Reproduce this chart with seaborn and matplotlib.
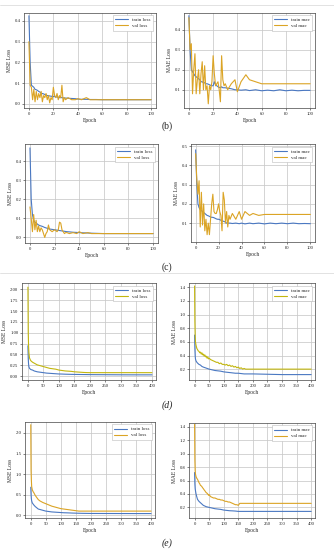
import matplotlib
matplotlib.use("Agg")
import matplotlib.pyplot as plt
from matplotlib.lines import Line2D
import seaborn as sns

# ---- panel (b) / (c): 100 epochs ----
ep100 = list(range(31)) + [32, 35, 38, 40, 43, 47, 50, 55, 60, 65, 70, 75, 80, 85, 90, 95, 100]

b_mse_train = [0.425, 0.20, 0.09, 0.085, 0.08, 0.07, 0.068, 0.065, 0.06, 0.057, 0.05, 0.05, 0.048, 0.045, 0.043, 0.04,
               0.04, 0.038, 0.037, 0.036, 0.035, 0.035, 0.034, 0.033, 0.032, 0.03, 0.03, 0.03, 0.029, 0.028, 0.028,
               0.027, 0.026, 0.025, 0.023, 0.022, 0.022, 0.021, 0.021, 0.02, 0.02, 0.02, 0.02, 0.02, 0.02, 0.02, 0.02, 0.02]
b_mse_val = [0.30, 0.09, 0.08, 0.02, 0.07, 0.01, 0.06, 0.02, 0.05, 0.03, 0.06, 0.01, 0.04, 0.03, 0.05, 0.02,
             0.04, 0.005, 0.03, 0.02, 0.08, 0.04, 0.03, 0.05, 0.02, 0.04, 0.03, 0.09, 0.01, 0.03, 0.02,
             0.03, 0.02, 0.02, 0.025, 0.02, 0.03, 0.02, 0.02, 0.02, 0.02, 0.02, 0.02, 0.02, 0.02, 0.02, 0.02, 0.02]
b_mae_train = [0.47, 0.30, 0.20, 0.19, 0.18, 0.17, 0.165, 0.16, 0.155, 0.15, 0.14, 0.14, 0.135, 0.135, 0.13, 0.13,
               0.128, 0.125, 0.122, 0.12, 0.12, 0.14, 0.125, 0.12, 0.115, 0.112, 0.11, 0.115, 0.11, 0.11, 0.11,
               0.108, 0.105, 0.10, 0.10, 0.098, 0.10, 0.096, 0.10, 0.095, 0.098, 0.095, 0.10, 0.095, 0.098, 0.095, 0.097, 0.097]
b_mae_val = [0.46, 0.30, 0.33, 0.08, 0.20, 0.28, 0.08, 0.15, 0.20, 0.08, 0.18, 0.24, 0.10, 0.22, 0.10, 0.12,
             0.03, 0.12, 0.10, 0.14, 0.27, 0.18, 0.12, 0.13, 0.14, 0.10, 0.04, 0.27, 0.15, 0.12, 0.13,
             0.10, 0.13, 0.15, 0.09, 0.14, 0.175, 0.15, 0.14, 0.13, 0.13, 0.13, 0.13, 0.13, 0.13, 0.13, 0.13, 0.13]

c_mse_train = [0.47, 0.20, 0.12, 0.09, 0.08, 0.075, 0.07, 0.065, 0.062, 0.06, 0.058, 0.055, 0.052, 0.05, 0.048, 0.045,
               0.044, 0.043, 0.042, 0.041, 0.04, 0.039, 0.038, 0.037, 0.036, 0.035, 0.034, 0.033, 0.032, 0.031, 0.03,
               0.029, 0.027, 0.026, 0.025, 0.024, 0.023, 0.022, 0.021, 0.02, 0.02, 0.02, 0.02, 0.02, 0.02, 0.02, 0.02, 0.02]
c_mse_val = [0.16, 0.10, 0.03, 0.12, 0.04, 0.09, 0.03, 0.06, 0.03, 0.05, 0.04, 0.02, 0.00, 0.02, 0.03, 0.065,
             0.04, 0.035, 0.03, 0.035, 0.04, 0.035, 0.03, 0.04, 0.08, 0.075, 0.04, 0.03, 0.02, 0.025, 0.025,
             0.02, 0.025, 0.02, 0.03, 0.02, 0.025, 0.02, 0.02, 0.02, 0.02, 0.02, 0.02, 0.02, 0.02, 0.02, 0.02, 0.02]
c_mae_train = [0.48, 0.30, 0.20, 0.18, 0.17, 0.165, 0.16, 0.155, 0.15, 0.145, 0.14, 0.138, 0.135, 0.132, 0.13, 0.13,
               0.128, 0.125, 0.122, 0.12, 0.12, 0.118, 0.115, 0.112, 0.11, 0.108, 0.105, 0.10, 0.10, 0.10, 0.10,
               0.098, 0.10, 0.097, 0.10, 0.096, 0.10, 0.097, 0.10, 0.096, 0.10, 0.097, 0.10, 0.097, 0.10, 0.097, 0.098, 0.097]
c_mae_val = [0.46, 0.33, 0.25, 0.32, 0.08, 0.26, 0.09, 0.20, 0.06, 0.12, 0.04, 0.10, 0.04, 0.12, 0.20, 0.25,
             0.16, 0.15, 0.15, 0.17, 0.20, 0.16, 0.14, 0.06, 0.26, 0.22, 0.10, 0.16, 0.08, 0.14, 0.12,
             0.15, 0.12, 0.16, 0.12, 0.16, 0.14, 0.15, 0.14, 0.145, 0.145, 0.145, 0.145, 0.145, 0.145, 0.145, 0.145, 0.145]

# ---- panel (d) / (e): 400 epochs ----
ep400 = [0, 1, 2, 3, 5, 8, 10, 15, 20, 25, 30, 40, 50, 60, 70, 80, 90, 100, 110, 120, 130, 140, 150, 160,
         170, 180, 190, 200, 250, 300, 350, 400]
ep400_fine = [0, 1, 2, 3, 5, 8, 10, 12, 15, 18, 20, 23, 25, 28, 30, 33, 35, 38, 40, 43, 45, 48, 50, 55, 60, 65, 70,
              75, 80, 85, 90, 95, 100, 105, 110, 115, 120, 125, 130, 135, 140, 145, 150, 155, 160, 165, 170, 175,
              180, 200, 250, 300, 350, 400]

d_mse_train = [0.70, 0.40, 0.28, 0.22, 0.18, 0.16, 0.15, 0.14, 0.12, 0.11, 0.10, 0.09, 0.08, 0.07, 0.065, 0.06,
               0.055, 0.05, 0.048, 0.045, 0.043, 0.041, 0.04, 0.039, 0.038, 0.037, 0.036, 0.035, 0.033, 0.031, 0.03, 0.03]
d_mse_val = [2.05, 1.0, 0.70, 0.55, 0.42, 0.37, 0.35, 0.32, 0.30, 0.28, 0.26, 0.24, 0.22, 0.20, 0.18, 0.17,
             0.16, 0.14, 0.13, 0.12, 0.115, 0.11, 0.10, 0.095, 0.09, 0.085, 0.082, 0.08, 0.08, 0.08, 0.08, 0.08]
d_mae_train = [0.70, 0.50, 0.40, 0.35, 0.32, 0.30, 0.29, 0.27, 0.26, 0.24, 0.23, 0.215, 0.20, 0.19, 0.18, 0.175,
               0.17, 0.16, 0.155, 0.15, 0.145, 0.14, 0.14, 0.135, 0.13, 0.13, 0.13, 0.13, 0.125, 0.12, 0.12, 0.12]
d_mae_val = [1.42, 0.90, 0.70, 0.60, 0.55, 0.50, 0.49, 0.47, 0.46, 0.44, 0.45, 0.42, 0.44, 0.41, 0.42, 0.39, 0.41,
             0.38, 0.39, 0.36, 0.38, 0.35, 0.36, 0.34, 0.33, 0.32, 0.31, 0.30, 0.30, 0.28, 0.29, 0.27, 0.27, 0.26,
             0.27, 0.25, 0.26, 0.24, 0.25, 0.23, 0.24, 0.22, 0.23, 0.21, 0.22, 0.20, 0.21, 0.20, 0.20, 0.20, 0.20,
             0.20, 0.20, 0.20]

e_mse_train = [0.68, 0.50, 0.40, 0.35, 0.30, 0.27, 0.25, 0.21, 0.18, 0.15, 0.14, 0.12, 0.10, 0.09, 0.08, 0.075,
               0.07, 0.065, 0.06, 0.058, 0.055, 0.052, 0.05, 0.048, 0.046, 0.045, 0.044, 0.043, 0.042, 0.041, 0.04, 0.04]
e_mse_val = [2.20, 1.10, 0.85, 0.70, 0.62, 0.57, 0.55, 0.48, 0.43, 0.38, 0.35, 0.31, 0.28, 0.25, 0.22, 0.20,
             0.18, 0.16, 0.15, 0.14, 0.13, 0.12, 0.11, 0.10, 0.10, 0.10, 0.10, 0.10, 0.10, 0.10, 0.10, 0.10]
e_mae_train = [0.72, 0.55, 0.48, 0.45, 0.40, 0.35, 0.32, 0.29, 0.27, 0.25, 0.23, 0.21, 0.20, 0.19, 0.18, 0.175,
               0.17, 0.16, 0.155, 0.15, 0.148, 0.145, 0.14, 0.14, 0.14, 0.14, 0.14, 0.14, 0.14, 0.14, 0.14, 0.14]
e_mae_val = [1.44, 0.90, 0.75, 0.70, 0.66, 0.63, 0.62, 0.60, 0.57, 0.55, 0.53, 0.52, 0.51, 0.49, 0.48, 0.46, 0.45,
             0.43, 0.42, 0.41, 0.40, 0.38, 0.39, 0.36, 0.35, 0.34, 0.34, 0.33, 0.32, 0.32, 0.31, 0.31, 0.30, 0.29,
             0.29, 0.28, 0.28, 0.27, 0.26, 0.25, 0.24, 0.24, 0.23, 0.26, 0.26, 0.26, 0.26, 0.26, 0.26, 0.26, 0.26,
             0.26, 0.26, 0.26]

TRAIN_C = "#4a78c2"
VAL_C = "#dba425"
VAL_C_D = "#c2b60e"

sns.set_style("whitegrid")
plt.rcParams["font.family"] = ["Liberation Serif", "DejaVu Serif"]


def panel(fig, rect, ep_tr, y_tr, ep_va, y_va, kind, val_color, ylim, yticks, xlim, xticks, yfmt):
    ax = fig.add_axes(rect)
    sns.lineplot(x=ep_tr, y=y_tr, ax=ax, color=TRAIN_C, lw=0.8, label=f"train {kind}")
    sns.lineplot(x=ep_va, y=y_va, ax=ax, color=val_color, lw=0.8, label=f"val {kind}")
    ax.set_xlim(xlim)
    ax.set_ylim(ylim)
    ax.set_xticks(xticks)
    ax.set_yticks(yticks)
    ax.set_yticklabels([yfmt.format(t) for t in yticks])
    ax.tick_params(labelsize=3.4, length=1.2, width=0.4, pad=1.5, left=True, bottom=True)
    ax.set_xlabel("Epoch", fontsize=4, labelpad=1.5)
    ax.set_ylabel("MSE Loss" if kind == "loss" else "MAE Loss", fontsize=4, labelpad=2)
    ax.grid(True, which="major", axis="both", color="#c9c9c9", lw=0.55)
    for s in ax.spines.values():
        s.set_color("#444444")
        s.set_linewidth(0.5)
    leg = ax.legend(loc="upper right", fontsize=3.6, handlelength=2.6, borderpad=0.5,
                    labelspacing=0.3, handletextpad=0.8, framealpha=1, fancybox=False)
    leg.get_frame().set_linewidth(0.4)
    leg.get_frame().set_edgecolor("#bbbbbb")
    return ax


fig = plt.figure(figsize=(3.34, 5.5), dpi=100)

x100 = (-4, 104)
t100 = [0, 20, 40, 60, 80, 100]
x400 = (-19, 413)
t400 = list(range(0, 401, 50))

panel(fig, [0.072, 0.804, 0.395, 0.173], ep100, b_mse_train, ep100, b_mse_val, "loss", VAL_C,
      (-0.019, 0.44), [0.0, 0.1, 0.2, 0.3, 0.4], x100, t100, "{:.1f}")
panel(fig, [0.551, 0.804, 0.392, 0.173], ep100, b_mae_train, ep100, b_mae_val, "mae", VAL_C,
      (0.01, 0.485), [0.1, 0.2, 0.3, 0.4], x100, t100, "{:.1f}")
panel(fig, [0.075, 0.558, 0.398, 0.180], ep100, c_mse_train, ep100, c_mse_val, "loss", VAL_C,
      (-0.03, 0.49), [0.0, 0.1, 0.2, 0.3, 0.4], x100, t100, "{:.1f}")
panel(fig, [0.572, 0.560, 0.371, 0.178], ep100, c_mae_train, ep100, c_mae_val, "mae", VAL_C,
      (0.002, 0.51), [0.1, 0.2, 0.3, 0.4, 0.5], x100, t100, "{:.1f}")
panel(fig, [0.066, 0.309, 0.401, 0.176], ep400, d_mse_train, ep400, d_mse_val, "loss", VAL_C_D,
      (-0.09, 2.14), [0, 0.25, 0.5, 0.75, 1.0, 1.25, 1.5, 1.75, 2.0], x400, t400, "{:.2f}")
panel(fig, [0.566, 0.309, 0.377, 0.176], ep400, d_mae_train, ep400_fine, d_mae_val, "mae", VAL_C_D,
      (0.04, 1.46), [0.2, 0.4, 0.6, 0.8, 1.0, 1.2, 1.4], x400, t400, "{:.1f}")
panel(fig, [0.075, 0.058, 0.389, 0.175], ep400, e_mse_train, ep400, e_mse_val, "loss", VAL_C,
      (-0.07, 2.27), [0.0, 0.5, 1.0, 1.5, 2.0], x400, t400, "{:.1f}")
panel(fig, [0.566, 0.058, 0.377, 0.173], ep400, e_mae_train, ep400_fine, e_mae_val, "mae", VAL_C,
      (0.04, 1.46), [0.2, 0.4, 0.6, 0.8, 1.0, 1.2, 1.4], x400, t400, "{:.1f}")

fig.text(0.5, 0.771, "(b)", ha="center", va="center", fontsize=7)
fig.text(0.5, 0.515, "(c)", ha="center", va="center", fontsize=7)
fig.text(0.5, 0.264, "(d)", ha="center", va="center", fontsize=7, style="italic")
fig.text(0.5, 0.012, "(e)", ha="center", va="center", fontsize=7, style="italic")

for yy in [1 - 5 / 550, 1 - 273 / 550]:
    fig.add_artist(Line2D([0.0, 1.0], [yy, yy], color="#dddddd", lw=0.6, transform=fig.transFigure))

fig.savefig("out.png", dpi=100)
